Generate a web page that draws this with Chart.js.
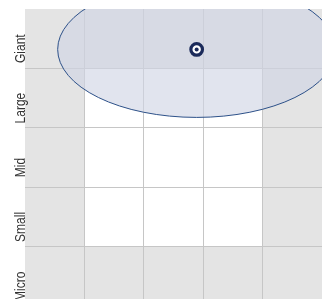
<!DOCTYPE html>
<html>
<head>
<meta charset="utf-8">
<script src="https://cdn.jsdelivr.net/npm/chart.js@4/dist/chart.umd.min.js"></script>
<style>
html,body{margin:0;padding:0;background:#fff;overflow:hidden;}
#wrap{width:322px;height:299px;}
canvas{display:block;}
</style>
</head>
<body>
<div id="wrap"><canvas id="c" width="322" height="299"></canvas></div>
<script>
// Size rows (bottom to top) and style columns
const sizeLabels = ['Micro', 'Small', 'Mid', 'Large', 'Giant'];
const styleColumns = ['Deep Value', 'Core Value', 'Core', 'Core Growth', 'High Growth'];
// Visible range of the size axis (the bottom row is cut off by the frame)
const sizeAxisMin = [0.118];
// Portfolio centroid (in grid units)
const centroidX = [2.89];
const centroidY = [4.32];
// Ownership zone ellipse (centre + semi-axes, grid units)
const zoneCenterX = [2.89];
const zoneCenterY = [4.32];
const zoneRadiusX = [2.34];
const zoneRadiusY = [1.145];
// Inner (white) region of the style box, grid units
const innerBox = { xMin: 1, xMax: 4, yMin: 1, yMax: 4 };

const points = centroidX.map((x, i) => ({ x: x, y: centroidY[i] }));

const bgPlugin = {
  id: 'bg',
  beforeDraw(chart) {
    const { ctx, chartArea: a, scales: { x, y } } = chart;
    ctx.save();
    ctx.fillStyle = '#e4e4e4';
    ctx.fillRect(a.left, a.top, a.right - a.left, a.bottom - a.top);
    ctx.fillStyle = '#ffffff';
    const x0 = x.getPixelForValue(innerBox.xMin), x1 = x.getPixelForValue(innerBox.xMax);
    const y0 = y.getPixelForValue(innerBox.yMax), y1 = y.getPixelForValue(innerBox.yMin);
    ctx.fillRect(x0, y0, x1 - x0, y1 - y0);
    ctx.restore();
  },
  beforeDatasetsDraw(chart) {
    const { ctx, chartArea: a, scales: { x, y } } = chart;
    ctx.save();
    ctx.beginPath();
    ctx.rect(a.left, a.top, a.right - a.left, a.bottom - a.top);
    ctx.clip();
    zoneCenterX.forEach((cx, i) => {
      const px = x.getPixelForValue(cx), py = y.getPixelForValue(zoneCenterY[i]);
      const rx = Math.abs(x.getPixelForValue(cx + zoneRadiusX[i]) - px);
      const ry = Math.abs(y.getPixelForValue(zoneCenterY[i] + zoneRadiusY[i]) - py);
      ctx.beginPath();
      ctx.ellipse(px, py, rx, ry, 0, 0, Math.PI * 2);
      ctx.fillStyle = 'rgba(208,213,228,0.63)';
      ctx.fill();
      ctx.lineWidth = 1;
      ctx.strokeStyle = '#2d5189';
      ctx.stroke();
    });
    ctx.restore();
  },
  afterDraw(chart) {
    const { ctx, scales: { y } } = chart;
    ctx.save();
    ctx.fillStyle = '#333333';
    ctx.font = '15px "Liberation Sans Narrow", "Arial Narrow", "Liberation Sans", sans-serif';
    ctx.textAlign = 'center';
    ctx.textBaseline = 'alphabetic';
    sizeLabels.forEach((lab, i) => {
      const py = y.getPixelForValue(i + 0.5) + 10;
      ctx.save();
      ctx.translate(25, py);
      ctx.rotate(-Math.PI / 2);
      ctx.scale(0.8, 1);
      ctx.fillText(lab, 0, 0);
      ctx.restore();
    });
    ctx.restore();
  }
};

const gridColor = (ctx) => {
  const v = ctx.tick && ctx.tick.value;
  return (Number.isInteger(v) && v > 0 && v < 5) ? '#c6c6c6' : 'rgba(0,0,0,0)';
};

new Chart(document.getElementById('c'), {
  type: 'scatter',
  data: {
    datasets: [
      {
        // centre dot (dataset 0 is drawn on top)
        data: points,
        pointRadius: 2,
        pointBorderWidth: 0,
        pointBackgroundColor: '#1b2a5a',
        pointBorderColor: '#1b2a5a',
        pointHoverRadius: 2
      },
      {
        // outer ring
        data: points,
        pointRadius: 5.8,
        pointBorderWidth: 3.2,
        pointBackgroundColor: '#ffffff',
        pointBorderColor: '#1b2a5a',
        pointHoverRadius: 5.8
      }
    ]
  },
  options: {
    responsive: false,
    animation: false,
    devicePixelRatio: 1,
    layout: { autoPadding: false, padding: { top: 9, left: 0, right: 0, bottom: 0 } },
    plugins: { legend: { display: false }, tooltip: { enabled: false } },
    scales: {
      x: {
        type: 'linear', min: 0, max: styleColumns.length,
        ticks: { display: false, stepSize: 1 },
        grid: { color: gridColor, lineWidth: 1, drawTicks: false },
        border: { display: false },
        afterFit(s) { s.height = 0; }
      },
      y: {
        type: 'linear', min: sizeAxisMin[0], max: sizeLabels.length,
        ticks: { display: false, stepSize: 1 },
        grid: { color: gridColor, lineWidth: 1, drawTicks: false },
        border: { display: false },
        afterFit(s) { s.width = 25; }
      }
    }
  },
  plugins: [bgPlugin]
});
</script>
</body>
</html>
